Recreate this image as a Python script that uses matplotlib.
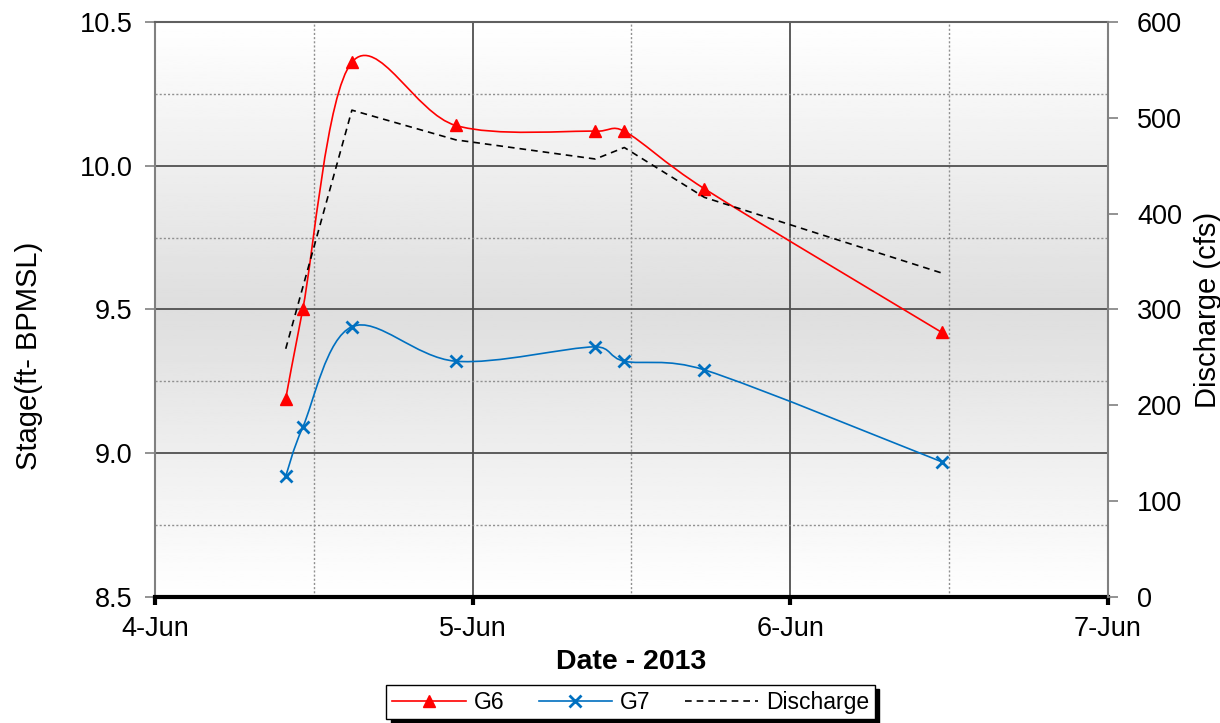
import matplotlib
matplotlib.use('Agg')
import matplotlib.pyplot as plt
import matplotlib.dates as mdates
import numpy as np
import pandas as pd
from matplotlib.path import Path
from matplotlib.patches import PathPatch
from matplotlib.lines import Line2D
from matplotlib.ticker import MultipleLocator, FormatStrFormatter

plt.rcParams['font.family'] = ['Liberation Sans', 'DejaVu Sans']

# gauge readings (stage, ft BPMSL)
stage_times = pd.to_datetime(['2013-06-04 09:53', '2013-06-04 11:10', '2013-06-04 14:53',
                              '2013-06-04 22:44', '2013-06-05 09:17', '2013-06-05 11:28',
                              '2013-06-05 17:31', '2013-06-06 11:28'])
g6 = [9.19, 9.50, 10.36, 10.14, 10.12, 10.12, 9.92, 9.42]
g7 = [8.92, 9.09, 9.44, 9.32, 9.37, 9.32, 9.29, 8.97]

# discharge (cfs)
flow_times = pd.to_datetime(['2013-06-04 09:53', '2013-06-04 14:53', '2013-06-04 22:44',
                             '2013-06-05 09:17', '2013-06-05 11:28', '2013-06-05 17:31',
                             '2013-06-06 11:28'])
discharge = [259, 508, 477, 457, 469, 417, 338]


def smooth_path(axis, t, v):
    # excel style smoothed line: bezier through each point, handles
    # capped at half the segment length (worked out in screen space)
    pts = axis.transData.transform(np.column_stack([mdates.date2num(t), v]))
    p = np.vstack([pts[0], pts, pts[-1]])
    verts = [p[1]]
    codes = [Path.MOVETO]
    for i in range(1, len(p) - 2):
        p0, p1, p2, p3 = p[i - 1], p[i], p[i + 1], p[i + 2]
        d12 = np.hypot(*(p2 - p1))
        d02 = np.hypot(*(p2 - p0))
        d13 = np.hypot(*(p3 - p1))
        f0 = min(1 / 6, d12 / 2 / d02) if d02 > 0 else 0
        f1 = min(1 / 6, d12 / 2 / d13) if d13 > 0 else 0
        verts += [p1 + f0 * (p2 - p0), p2 - f1 * (p3 - p1), p2]
        codes += [Path.CURVE4] * 3
    return axis.transData.inverted().transform_path(Path(verts, codes))


fig = plt.figure(figsize=(12.2, 7.23), dpi=100)
ax = fig.add_axes([0.127, 0.1743, 0.781, 0.7953])

red = '#ff0000'
blue = '#0070c0'

ax.plot(stage_times, g6, linestyle='none', marker='^', color=red, markersize=9, zorder=5)
ax.plot(stage_times, g7, linestyle='none', marker='x', color=blue, markersize=9, mew=2, zorder=5)

# grey gradient background, dark in the middle
g = np.linspace(0, 1, 256)
shade = 1 - 0.13 * (1 - np.abs(2 * g - 1))
ax.imshow(shade[:, None], cmap='gray', vmin=0, vmax=1, extent=[0, 1, 0, 1],
          transform=ax.transAxes, aspect='auto', zorder=0)

ax.set_xlim(pd.Timestamp('2013-06-04'), pd.Timestamp('2013-06-07'))
ax.set_ylim(8.5, 10.5)

ax.add_patch(PathPatch(smooth_path(ax, stage_times, g6), facecolor='none', edgecolor=red, lw=1.2, zorder=4))
ax.add_patch(PathPatch(smooth_path(ax, stage_times, g7), facecolor='none', edgecolor=blue, lw=1.2, zorder=4))

ax.xaxis.set_major_locator(mdates.DayLocator())
ax.xaxis.set_minor_locator(mdates.HourLocator(byhour=[12]))
ax.xaxis.set_major_formatter(mdates.DateFormatter('%-d-%b'))
ax.yaxis.set_major_locator(MultipleLocator(0.5))
ax.yaxis.set_minor_locator(MultipleLocator(0.25))
ax.yaxis.set_major_formatter(FormatStrFormatter('%.1f'))

ax.set_axisbelow(True)
ax.grid(which='major', color='#505050', lw=1.3, ls='-')
ax.grid(which='minor', color='#909090', lw=1.0, ls=(0, (1.5, 1.5)))

ax.tick_params(axis='y', which='major', direction='out', length=7, width=1.2, color='#808080',
               labelsize=19.5, pad=9)
ax.tick_params(axis='x', which='major', direction='out', length=6, width=3, color='black',
               labelsize=19.5, pad=8)
ax.tick_params(which='minor', length=0)

ax.spines['left'].set_color('#808080')
ax.spines['left'].set_linewidth(1.5)
ax.spines['top'].set_color('#606060')
ax.spines['top'].set_linewidth(1.5)
ax.spines['bottom'].set_color('black')
ax.spines['bottom'].set_linewidth(3)
ax.spines['right'].set_visible(False)

ax.set_xlabel('Date - 2013', fontsize=20.5, fontweight='bold', labelpad=5)
ax.set_ylabel('Stage(ft- BPMSL)', fontsize=21)
ax.yaxis.set_label_coords(-0.118, 0.42)

ax2 = ax.twinx()
ax2.plot(flow_times, discharge, color='black', ls=(0, (4, 3)), lw=1.2, zorder=3)
ax2.set_ylim(0, 600)
ax2.yaxis.set_major_locator(MultipleLocator(100))
ax2.yaxis.set_tick_params(which='major', direction='out', length=7, width=1.2, color='#808080',
                          labelsize=19.5, pad=14)
for s in ['left', 'top', 'bottom']:
    ax2.spines[s].set_visible(False)
ax2.spines['right'].set_color('#808080')
ax2.spines['right'].set_linewidth(1.5)
ax2.set_ylabel('Discharge (cfs)', fontsize=21)
ax2.yaxis.set_label_coords(1.09, 0.5)

handles = [Line2D([], [], color=red, lw=1.2, marker='^', markersize=9),
           Line2D([], [], color=blue, lw=1.2, marker='x', markersize=9, mew=2),
           Line2D([], [], color='black', lw=1.2, ls=(0, (4, 3)))]
leg = fig.legend(handles, ['G6', 'G7', 'Discharge'], loc='center', bbox_to_anchor=(0.517, 0.029),
                 ncol=3, numpoints=1, fontsize=16.5, fancybox=False, edgecolor='black', framealpha=1,
                 handlelength=3.2, columnspacing=1.5, handletextpad=0.35, borderpad=0.25,
                 shadow={'ox': 3, 'oy': -3, 'color': 'black', 'alpha': 1})
leg.get_frame().set_linewidth(1.0)

fig.savefig('out.png', dpi=100)
